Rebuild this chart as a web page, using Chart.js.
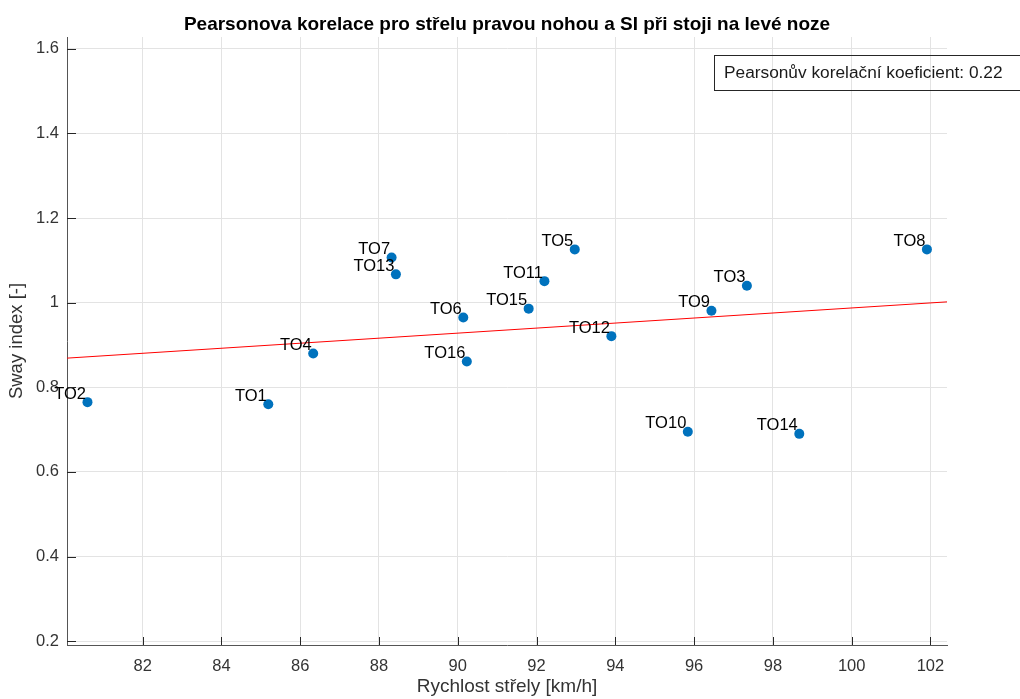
<!DOCTYPE html>
<html>
<head>
<meta charset="utf-8">
<script src="https://cdn.jsdelivr.net/npm/chart.js@4.4.1/dist/chart.umd.min.js"></script>
<style>
  body { margin: 0; background: #fff; }
  #wrap { width: 1020px; height: 699px; position: relative; }
</style>
</head>
<body>
<div id="wrap"><canvas id="c"></canvas></div>
<script>
// data
const names = ["TO1", "TO2", "TO3", "TO4", "TO5", "TO6", "TO7", "TO8",
               "TO9", "TO10", "TO11", "TO12", "TO13", "TO14", "TO15", "TO16"];
const speed = [85.19, 80.60, 97.34, 86.33, 92.97, 90.14, 88.32, 101.91,
               96.44, 95.84, 92.20, 93.90, 88.43, 98.67, 91.80, 90.23];
const sway = [0.760, 0.765, 1.040, 0.880, 1.126, 0.965, 1.107, 1.126,
              0.981, 0.695, 1.051, 0.921, 1.067, 0.690, 0.986, 0.861];

// linear fit, end points at the axis limits
const fitX = [80.08, 102.42];
const fitY = [0.869, 1.002];

const xTicks = [82, 84, 86, 88, 90, 92, 94, 96, 98, 100, 102];
const yTicks = [0.2, 0.4, 0.6, 0.8, 1.0, 1.2, 1.4, 1.6];
const yTickLabels = ["0.2", "0.4", "0.6", "0.8", "1", "1.2", "1.4", "1.6"];

const chartTitle = "Pearsonova korelace pro střelu pravou nohou a SI při stoji na levé noze";
const boxText = "Pearsonův korelační koeficient: 0.22";

const FONT = "'Liberation Sans', Arial, Helvetica, sans-serif";
const axisColor = "#555";

// popisky bodů, titulek, textové pole a dovnitř mířící ticky
const extras = {
  id: 'extras',
  afterDatasetsDraw(chart) {
    const ctx = chart.ctx;
    const meta = chart.getDatasetMeta(1);
    ctx.save();
    ctx.font = "16.5px " + FONT;
    ctx.fillStyle = "#000";
    ctx.textAlign = "right";
    ctx.textBaseline = "alphabetic";
    meta.data.forEach((pt, i) => {
      ctx.fillText(names[i], pt.x - 1.5, pt.y - 3.5);
    });
    ctx.restore();
  },
  afterDraw(chart) {
    const ctx = chart.ctx;
    const a = chart.chartArea;
    const xs = chart.scales.x, ys = chart.scales.y;
    ctx.save();
    // ticky
    ctx.strokeStyle = "#262626";
    ctx.lineWidth = 1;
    ctx.beginPath();
    xTicks.forEach(v => {
      const px = Math.round(xs.getPixelForValue(v)) + 0.5;
      ctx.moveTo(px, a.bottom);
      ctx.lineTo(px, a.bottom - 8);
    });
    yTicks.forEach(v => {
      const py = Math.round(ys.getPixelForValue(v)) + 0.5;
      ctx.moveTo(a.left, py);
      ctx.lineTo(a.left + 9, py);
    });
    ctx.stroke();
    // titulek
    ctx.font = "bold 19px " + FONT;
    ctx.fillStyle = "#000";
    ctx.textAlign = "center";
    ctx.textBaseline = "alphabetic";
    ctx.fillText(chartTitle, (a.left + a.right) / 2, 30);
    // textové pole s koeficientem
    ctx.strokeStyle = "#262626";
    ctx.strokeRect(714.5, 55.5, 330, 35);
    ctx.font = "17.3px " + FONT;
    ctx.textAlign = "left";
    ctx.textBaseline = "middle";
    ctx.fillStyle = "#1a1a1a";
    ctx.fillText(boxText, 724, 73.5);
    ctx.restore();
  }
};

new Chart(document.getElementById('c'), {
  type: 'scatter',
  data: {
    datasets: [{
      type: 'line',
      label: 'fit',
      data: fitX.map((x, i) => ({ x: x, y: fitY[i] })),
      borderColor: '#ff0000',
      borderWidth: 1,
      pointRadius: 0,
      fill: false,
      order: 2
    }, {
      label: 'TO',
      data: speed.map((x, i) => ({ x: x, y: sway[i] })),
      backgroundColor: '#0072BD',
      borderWidth: 0,
      pointRadius: 5,
      pointHoverRadius: 5,
      order: 1
    }]
  },
  options: {
    responsive: true,
    maintainAspectRatio: false,
    animation: false,
    layout: { padding: { top: 37, right: 73, left: 0, bottom: 0 } },
    plugins: { legend: { display: false }, tooltip: { enabled: false }, title: { display: false } },
    scales: {
      x: {
        type: 'linear',
        min: 80.08,
        max: 102.42,
        afterBuildTicks: s => { s.ticks = xTicks.map(v => ({ value: v })); },
        afterFit: s => { s.height = 54; },
        ticks: { font: { size: 16.5, family: FONT }, color: '#333', padding: 12, maxRotation: 0 },
        grid: { color: '#e3e3e3', drawTicks: false },
        border: { display: true, color: axisColor, width: 1 },
        title: { display: true, text: 'Rychlost střely [km/h]', font: { size: 19, family: FONT }, color: '#333', padding: { top: 0, bottom: 1 } }
      },
      y: {
        type: 'linear',
        min: 0.191,
        max: 1.628,
        afterBuildTicks: s => { s.ticks = yTicks.map(v => ({ value: v })); },
        afterFit: s => { s.width = 67; },
        ticks: { font: { size: 16.5, family: FONT }, color: '#333', padding: 8, callback: (v, i) => yTickLabels[i] },
        grid: { color: '#e3e3e3', drawTicks: false },
        border: { display: true, color: axisColor, width: 1 },
        title: { display: true, text: 'Sway index [-]', font: { size: 18.5, family: FONT }, color: '#333', padding: { top: 6, bottom: 0 } }
      }
    }
  },
  plugins: [extras]
});
</script>
</body>
</html>
